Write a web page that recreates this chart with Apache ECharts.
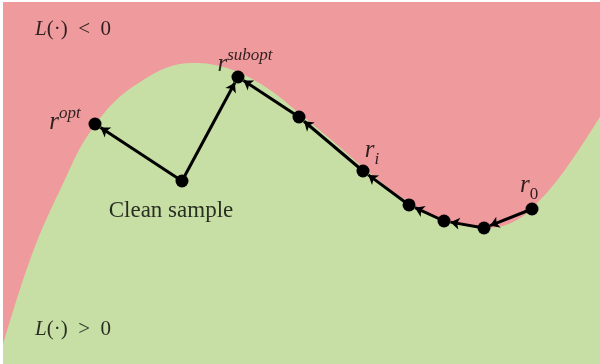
<!DOCTYPE html>
<html>
<head>
<meta charset="utf-8">
<script src="https://cdn.jsdelivr.net/npm/echarts@6/dist/echarts.min.js"></script>
<style>
  html, body { margin: 0; background: #fff; }
  #chart { width: 600px; height: 364px; }
</style>
</head>
<body>
<div id="chart"></div>
<script>
// decision boundary L(.) = 0, green (L > 0) below it
const boundaryX = [0, 0.452, 0.955, 1.541, 2.295, 3.183, 3.551, 3.970, 4.472, 4.975, 5.561, 6.064, 6.817, 7.404, 8.057, 8.576, 8.995, 9.447, 10];
const boundaryY = [0.315, 1.724, 2.884, 3.962, 4.674, 4.989, 4.956, 4.823, 4.542, 4.144, 3.663, 3.232, 2.669, 2.387, 2.254, 2.370, 2.718, 3.265, 4.1];

// samples
const pointNames = ["opt", "clean", "subopt", "p3", "ri", "p5", "p6", "p7", "r0"];
const pointX = [1.541, 2.998, 3.936, 4.958, 6.030, 6.801, 7.387, 8.057, 8.861];
const pointY = [3.978, 3.033, 4.757, 4.094, 3.199, 2.636, 2.370, 2.254, 2.569];

// arrows (from -> to)
const arrowFrom = ["clean", "clean", "r0", "p7", "p6", "p5", "ri", "p3"];
const arrowTo   = ["opt", "subopt", "p7", "p6", "p5", "ri", "p3", "subopt"];

// text labels
const labelText = [
  "{i|L}{n|(·)  <  0}",
  "{i|L}{n|(·)  >  0}",
  "{n2|Clean sample}",
  "{r|r}{sup|opt}",
  "{r|r}{sup|subopt}",
  "{rs|r}{sub|i}",
  "{rs|r}{sub0|0}"
];
const labelX = [1.173, 1.173, 2.814, 1.039, 4.054, 6.181, 8.811];
const labelY = [5.537, 0.564, 2.536, 4.044, 5.006, 3.464, 2.884];

const RED = "#ef9a9c";
const GREEN = "#c7dfa5";
const SERIF = "'Liberation Serif', 'DejaVu Serif', serif";

const idx = (n) => pointNames.indexOf(n);
const pad = 0.11; // keep arrow tip just outside the marker

const arrowData = arrowFrom.map((f, k) => {
  const a = idx(f), b = idx(arrowTo[k]);
  const x1 = pointX[a], y1 = pointY[a], x2 = pointX[b], y2 = pointY[b];
  const d = Math.hypot(x2 - x1, y2 - y1);
  return { coords: [[x1, y1], [x2 - (x2 - x1) / d * pad, y2 - (y2 - y1) / d * pad]] };
});

const txt = (size, italic, extra) => Object.assign({
  fontFamily: SERIF, fontSize: size, fontStyle: italic ? "italic" : "normal",
  color: "#000", textBorderWidth: 0
}, extra || {});

const chart = echarts.init(document.getElementById("chart"), null, { renderer: "canvas" });

chart.setOption({
  animation: false,
  grid: { left: 3, right: 0, top: 2, bottom: 0, show: true, backgroundColor: RED, borderWidth: 0 },
  xAxis: { type: "value", min: 0, max: 10, show: false },
  yAxis: { type: "value", min: 0, max: 6, show: false },
  series: [
    {
      type: "line",
      z: 1,
      data: boundaryX.map((x, k) => [x, boundaryY[k]]),
      smooth: 0.4,
      symbol: "none",
      silent: true,
      lineStyle: { width: 0 },
      areaStyle: { color: GREEN, opacity: 1, origin: "start" }
    },
    {
      type: "lines",
      z: 5,
      coordinateSystem: "cartesian2d",
      data: arrowData,
      symbol: ["none", "arrow"],
      symbolSize: 9,
      silent: true,
      lineStyle: { color: "#000", width: 3, opacity: 1, curveness: 0 }
    },
    {
      type: "scatter",
      z: 6,
      data: pointX.map((x, k) => [x, pointY[k]]),
      symbolSize: 13,
      silent: true,
      itemStyle: { color: "#000", opacity: 1 }
    },
    {
      type: "scatter",
      z: 7,
      data: labelX.map((x, k) => ({ value: [x, labelY[k]], text: labelText[k] })),
      symbolSize: 0,
      silent: true,
      label: {
        show: true,
        position: "inside",
        formatter: (p) => p.data.text,
        color: "#000",
        textBorderWidth: 0,
        fontFamily: SERIF,
        rich: {
          i:    txt(21, true),
          n:    txt(21, false),
          n2:   txt(23, false),
          r:    txt(25, true, { lineHeight: 30, verticalAlign: "bottom" }),
          sup:  txt(17, true, { lineHeight: 30, verticalAlign: "top" }),
          rs:   txt(25, true, { lineHeight: 34, verticalAlign: "top" }),
          sub:  txt(17, true, { lineHeight: 34, verticalAlign: "bottom", padding: [0, 0, 4, 0] }),
          sub0: txt(17, false, { lineHeight: 34, verticalAlign: "bottom", padding: [0, 0, 4, 0] })
        }
      }
    }
  ]
});
</script>
</body>
</html>
